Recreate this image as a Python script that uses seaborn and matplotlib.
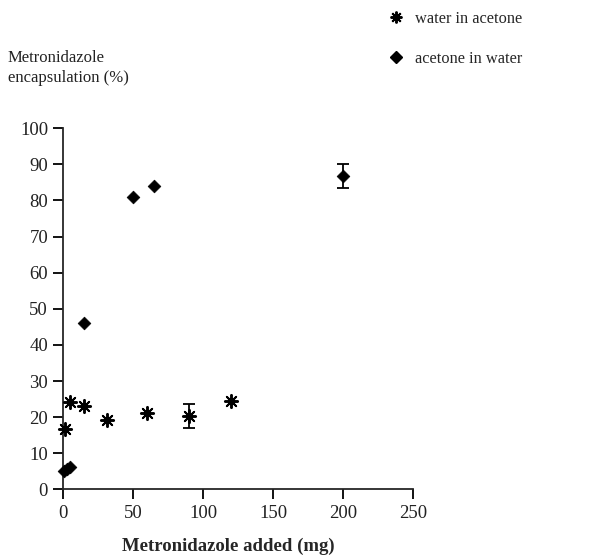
import matplotlib
matplotlib.use("Agg")
import matplotlib.pyplot as plt
import seaborn as sns
import pandas as pd
import numpy as np
from matplotlib.lines import Line2D

# Data
water_x = [1.5, 5, 15, 31, 60, 90, 120]
water_y = [16.7, 24.3, 23.2, 19.2, 21.2, 20.3, 24.5]
water_err = [0, 0, 0, 0, 0, 3.4, 0]
acetone_x = [0.5, 2.5, 5, 15, 50, 65, 200]
acetone_y = [5.2, 5.6, 6.1, 46.0, 80.9, 84.0, 86.8]
acetone_err = [0, 0, 0, 0, 0, 0, 3.4]
series_names = ["water in acetone", "acetone in water"]
x_ticks = [0, 50, 100, 150, 200, 250]
y_ticks = list(range(0, 101, 10))

sns.set_style("ticks")
plt.rcParams["font.family"] = ["Liberation Serif", "DejaVu Serif"]

df_w = pd.DataFrame({"x": water_x, "y": water_y})
df_a = pd.DataFrame({"x": acetone_x, "y": acetone_y})

fig = plt.figure(figsize=(5.94, 5.58), dpi=100)
ax = fig.add_axes([0.1066, 0.1231, 0.5892, 0.6470])

sns.scatterplot(data=df_w, x="x", y="y", marker=(8, 2, 0), color="black",
                edgecolor="black", linewidth=1.4, s=90, ax=ax, legend=False,
                clip_on=False, zorder=3)
sns.scatterplot(data=df_a, x="x", y="y", marker="D", color="black",
                edgecolor="black", linewidth=0.5, s=42, ax=ax, legend=False,
                clip_on=False, zorder=3)

# error bars
for xs, ys, es in [(water_x, water_y, water_err), (acetone_x, acetone_y, acetone_err)]:
    xe = [x for x, e in zip(xs, es) if e > 0]
    ye = [y for y, e in zip(ys, es) if e > 0]
    ee = [e for e in es if e > 0]
    ax.errorbar(xe, ye, yerr=ee, fmt="none", ecolor="black", elinewidth=1.3,
                capsize=4.5, capthick=1.3, zorder=2)

ax.set_xlim(0, 250)
ax.set_ylim(0, 100)
ax.set_xticks(x_ticks)
ax.set_yticks(y_ticks)
ax.tick_params(axis="both", direction="out", length=7, width=1.3,
               labelsize=13.5, colors="black", labelcolor="#222222")
ax.tick_params(axis="y", pad=4)
ax.tick_params(axis="x", pad=4)
for sp in ["top", "right"]:
    ax.spines[sp].set_visible(False)
for sp in ["left", "bottom"]:
    ax.spines[sp].set_linewidth(1.3)
ax.set_xlabel("Metronidazole added (mg)", fontsize=13.5, fontweight="bold")
ax.set_ylabel("")
ax.xaxis.set_label_coords(0.47, -0.135)

fig.text(8 / 594, 1 - 50 / 558, "Metronidazole\nencapsulation (%)", fontsize=12,
         ha="left", va="top", linespacing=1.3, color="#222222")

handles = [
    Line2D([], [], linestyle="none", marker=(8, 2, 0), color="black", markersize=8.5, markeredgewidth=1.4),
    Line2D([], [], linestyle="none", marker="D", color="black", markersize=6),
]
fig.legend(handles, series_names, loc="upper left", bbox_to_anchor=(381 / 594, 1 - 6 / 558),
           frameon=False, fontsize=11.8, labelspacing=1.45, handletextpad=0.6, handlelength=1.2,
           borderpad=0.1, borderaxespad=0.2)

fig.savefig("out.png", dpi=100)
